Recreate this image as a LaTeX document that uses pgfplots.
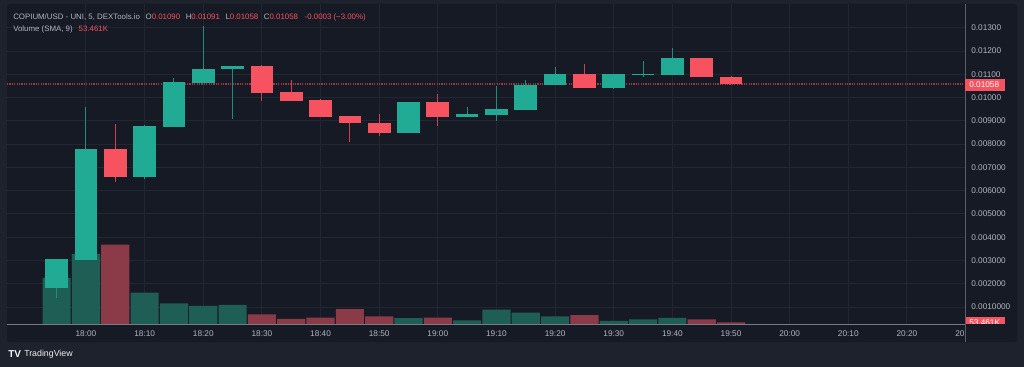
\documentclass[border=0pt]{standalone}
\usepackage{fontspec}
\setmainfont{Liberation Sans}
\usepackage{pgfplots}
\usepackage{pgfplotstable}
\pgfplotsset{compat=1.18}
\definecolor{outerbg}{HTML}{1E222D}
\definecolor{panel}{HTML}{161A25}
\definecolor{gridc}{HTML}{222633}
\definecolor{txt}{HTML}{B2B5BE}
\definecolor{cgreen}{HTML}{22AB94}
\definecolor{cred}{HTML}{F7525F}
\definecolor{wgreen}{HTML}{1F8D7B}
\definecolor{wred}{HTML}{C8444F}
\definecolor{vgreen}{HTML}{1E5E55}
\definecolor{vred}{HTML}{8B3A47}
\definecolor{sep}{HTML}{787B86}
\definecolor{pline}{HTML}{9A3A46}

% minutes after 18:00, open high low close
\pgfplotstableread{
t o h l c
-5 0.00181 0.00306 0.00138 0.00306
0 0.00303 0.00958 0.00303 0.00779
10 0.00660 0.00881 0.00651 0.00876
15 0.00875 0.01084 0.00875 0.01065
20 0.01062 0.01307 0.01062 0.01124
25 0.01122 0.01135 0.00908 0.01135
55 0.00849 0.00982 0.00849 0.00982
65 0.00918 0.00961 0.00918 0.00929
70 0.00925 0.01051 0.00898 0.00951
75 0.00948 0.01075 0.00948 0.01055
80 0.01052 0.01132 0.01052 0.01101
90 0.01041 0.01101 0.01036 0.01101
95 0.01097 0.01158 0.01089 0.01102
100 0.01098 0.01214 0.01098 0.01170
}\greencandles
\pgfplotstableread{
t o h l c
5 0.00779 0.00886 0.00639 0.00660
30 0.01135 0.01142 0.00985 0.01021
35 0.01022 0.01075 0.00986 0.00986
40 0.00989 0.00994 0.00918 0.00918
45 0.00921 0.00921 0.00810 0.00889
50 0.00892 0.00929 0.00835 0.00849
60 0.00982 0.01015 0.00878 0.00918
85 0.01101 0.01144 0.01041 0.01041
105 0.01170 0.01170 0.01087 0.01087
110 0.01090 0.01091 0.01058 0.01058
}\redcandles
% volume (K)
\pgfplotstableread{
t v
-5 358
0 544
10 244
15 159
20 141
25 149
55 45
65 29
70 112
75 88
80 60
90 25
95 35
100 48
}\greenvol
\pgfplotstableread{
t v
5 616
30 74
35 40
40 50
45 115
50 60
60 50
85 68
105 35
110 12
}\redvol

\pgfplotsset{
  chartgeom/.style={
    at={(5.25pt,-243pt)}, anchor=south west,
    scale only axis, width=718.5pt, height=240pt,
    xmin=-13.47, xmax=149.9,
  },
  candle/.style 2 args={draw=none, no markers, forget plot,
    error bars/.cd, y dir=both, y explicit, error mark=none,
    error bar style={draw=#1, line width=#2, solid}},
}

\begin{document}
\begin{tikzpicture}[font=\fontsize{6.2pt}{7.4pt}\selectfont]
\begin{scope}[x=0.75pt,y=-0.75pt]
\fill[outerbg] (0,0) rectangle (1024,367);
\fill[panel, rounded corners=2pt] (7,4) rectangle (1017,342);
\end{scope}

% grid and tick labels
\begin{axis}[chartgeom,
  ymin=0.0002707, ymax=0.01402,
  axis line style={draw=none}, major tick length=0pt,
  xtick={0,10,20,30,40,50,60,70,80,90,100,110,120,130,140},
  xticklabels={18:00,18:10,18:20,18:30,18:40,18:50,19:00,19:10,19:20,19:30,19:40,19:50,20:00,20:10,20:20},
  ytick={0.001,0.002,0.003,0.004,0.005,0.006,0.007,0.008,0.009,0.010,0.011,0.012,0.013},
  yticklabels={0.0010000,0.002000,0.003000,0.004000,0.005000,0.006000,0.007000,0.008000,0.009000,0.01000,0.01100,0.01200,0.01300},
  scaled y ticks=false, yticklabel pos=right,
  grid=major, major grid style={gridc, line width=0.75pt},
  tick label style={txt, font=\fontsize{6.2pt}{7.4pt}\selectfont},
  yticklabel style={anchor=west, inner sep=0pt, xshift=4.5pt},
  xticklabel style={anchor=north, inner sep=0pt, yshift=-5pt},
]
\addplot[draw=none] coordinates {(0,0.005)};
\end{axis}

% volume
\begin{axis}[chartgeom, ymin=0, ymax=2480, hide axis]
\addplot[ybar, bar width=4.8, bar shift=0pt, fill=vgreen, draw=none] table[x=t,y=v] {\greenvol};
\addplot[ybar, bar width=4.8, bar shift=0pt, fill=vred, draw=none] table[x=t,y=v] {\redvol};
\end{axis}

% candles
\begin{axis}[chartgeom, ymin=0.0002707, ymax=0.01402, hide axis]
\addplot[pline, line width=0.9pt, dash pattern=on 0.9pt off 0.9pt] coordinates {(-13.47,0.01058) (149.9,0.01058)};
\addplot[candle={wgreen}{0.75pt}]
  table[x=t, y expr={(\thisrow{h}+\thisrow{l})/2}, y error expr={(\thisrow{h}-\thisrow{l})/2}] {\greencandles};
\addplot[candle={wred}{0.75pt}]
  table[x=t, y expr={(\thisrow{h}+\thisrow{l})/2}, y error expr={(\thisrow{h}-\thisrow{l})/2}] {\redcandles};
\addplot[candle={cgreen}{17pt}]
  table[x=t, y expr={(\thisrow{o}+\thisrow{c})/2}, y error expr={abs(\thisrow{c}-\thisrow{o})/2}] {\greencandles};
\addplot[candle={cred}{17pt}]
  table[x=t, y expr={(\thisrow{o}+\thisrow{c})/2}, y error expr={abs(\thisrow{c}-\thisrow{o})/2}] {\redcandles};
\end{axis}

\begin{scope}[x=0.75pt,y=-0.75pt]
\draw[sep, line width=0.75pt] (7,324) -- (965,324);
\draw[sep!70!panel, line width=0.75pt] (965,4) -- (965,342);
% price label
\fill[cred] (965,79) rectangle (1005,91);
\node[white, anchor=west, inner sep=0pt] at (969,85) {0.01058};
% volume label (cut by time scale)
\begin{scope}
\clip (966,300) rectangle (1017,323.5);
\fill[cred] (965,317) rectangle (1005,330);
\node[white, anchor=west, inner sep=0pt] at (969,323) {53.461K};
\end{scope}
% last time label cut by price scale
\begin{scope}
\clip (900,326) rectangle (963.5,342);
\node[txt, anchor=north, inner sep=0pt] at (965.6,330) {20:30};
\end{scope}
% header
\node[txt, anchor=west, inner sep=0pt] at (13,17) {\fontsize{5.9pt}{7pt}\selectfont COPIUM/USD - UNI, 5, DEXTools.io\hspace{4.2pt}O\textcolor{cred}{0.01090}\hspace{4.2pt}H\textcolor{cred}{0.01091}\hspace{4.2pt}L\textcolor{cred}{0.01058}\hspace{4.2pt}C\textcolor{cred}{0.01058}\hspace{5pt}\textcolor{cred}{-0.0003 (−3.00\%)}};
\node[txt, anchor=west, inner sep=0pt] at (13,29) {\fontsize{5.9pt}{7pt}\selectfont Volume (SMA, 9)\hspace{4.5pt}\textcolor{cred}{53.461K}};
% footer logo
\node[white!85!txt, anchor=west, inner sep=0pt] at (8,354) {\fontsize{7.5pt}{8pt}\selectfont\textbf{TV}};
\node[white!80!txt, anchor=west, inner sep=0pt] at (24,354) {\fontsize{6.6pt}{8pt}\selectfont TradingView};
\end{scope}
\end{tikzpicture}
\end{document}
